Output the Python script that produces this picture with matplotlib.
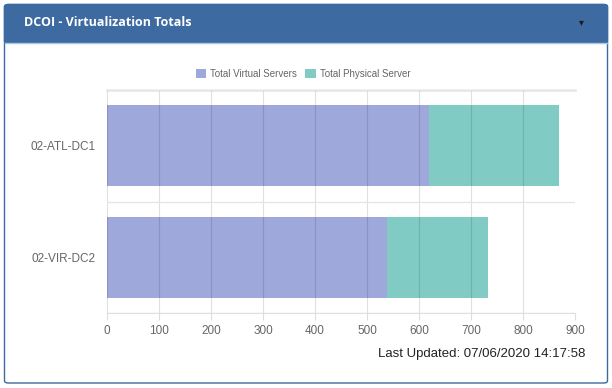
import matplotlib.pyplot as plt
from matplotlib.patches import FancyBboxPatch, Rectangle
from matplotlib.lines import Line2D

# data
sites = ["02-ATL-DC1", "02-VIR-DC2"]
virtual_servers = [620, 538]
physical_servers = [249, 195]
x_ticks = [0, 100, 200, 300, 400, 500, 600, 700, 800, 900]

title = "DCOI - Virtualization Totals"
updated = "Last Updated: 07/06/2020 14:17:58"

c_virtual = "#9fa8da"
c_physical = "#80cbc4"
c_header = "#3d6aa1"
c_text = "#666666"

W, H = 612, 388
fig = plt.figure(figsize=(W / 100, H / 100), dpi=100)
fig.patch.set_facecolor("white")

def fx(px):
    return px / W

def fy(py):
    return 1 - py / H

# panel frame + header
panel = FancyBboxPatch((fx(4.5), fy(383)), fx(603), fy(4.5) - fy(383),
                       boxstyle="round,pad=0,rounding_size=0.006",
                       transform=fig.transFigure, fc="white", ec=c_header, lw=1.0, zorder=-3)
fig.patches.append(panel)
header = FancyBboxPatch((fx(4.5), fy(43)), fx(603), fy(4.5) - fy(43),
                        boxstyle="round,pad=0,rounding_size=0.006",
                        transform=fig.transFigure, fc=c_header, ec=c_header, lw=1.0, zorder=-2)
fig.patches.append(header)
fig.patches.append(Rectangle((fx(4.5), fy(43)), fx(603), fy(30) - fy(43),
                             transform=fig.transFigure, fc=c_header, ec="none", zorder=-2))
fig.lines.append(Line2D([fx(5), fx(607)], [fy(43), fy(43)], transform=fig.transFigure,
                        color="#a9c4e4", lw=1.0, zorder=-1))
fig.text(fx(24), fy(23), title, color="white", fontsize=9, fontweight="bold",
         family=["Open Sans", "DejaVu Sans"], va="center", ha="left")
fig.text(fx(581), fy(22), "\u25BE", color="#1a1a1a", fontsize=7, va="center", ha="center",
         family=["DejaVu Sans"])

# chart
ax = fig.add_axes([fx(107), fy(313), fx(575) - fx(107), fy(90) - fy(313)])
ax.set_facecolor("none")
y = [0, 1]
ax.barh(y, virtual_servers, height=0.73, color=c_virtual, label="Total Virtual Servers", zorder=1)
ax.barh(y, physical_servers, left=virtual_servers, height=0.73, color=c_physical,
        label="Total Physical Server", zorder=1)
ax.set_xlim(0, 900)
ax.set_ylim(1.5, -0.5)
ax.set_xticks(x_ticks)
ax.set_yticks(y)
ax.set_yticklabels(sites)
ax.set_yticks([-0.5, 0.5, 1.5], minor=True)
ax.grid(axis="x", color="#000000", alpha=0.12, lw=0.8, zorder=3)
ax.grid(axis="y", which="minor", color="#e6e6e6", lw=1.0, zorder=0)
ax.set_axisbelow(False)
for s in ["right", "left"]:
    ax.spines[s].set_visible(False)
ax.spines["bottom"].set_color("#e0e0e0")
ax.spines["top"].set_color("#ececec")
ax.spines["top"].set_linewidth(2)
ax.tick_params(axis="x", colors="#dddddd", labelcolor=c_text, labelsize=8.5, length=5, pad=4)
ax.tick_params(axis="y", which="both", length=0, labelcolor=c_text, labelsize=8.5, pad=8)
for lab in ax.get_xticklabels() + ax.get_yticklabels():
    lab.set_family(["Liberation Sans", "DejaVu Sans"])

leg = fig.legend(loc="center", bbox_to_anchor=(fx(303), fy(74)), ncol=2, frameon=False,
                 handlelength=1.1, handleheight=1.1, handletextpad=0.4,
                 columnspacing=0.8, prop={"family": ["Liberation Sans", "DejaVu Sans"], "size": 7})
for t in leg.get_texts():
    t.set_color(c_text)

fig.text(fx(585), fy(354), updated, color="#222222", fontsize=9.5, ha="right", va="center",
         family=["Liberation Sans", "DejaVu Sans"])

fig.savefig("out.png", dpi=100)
